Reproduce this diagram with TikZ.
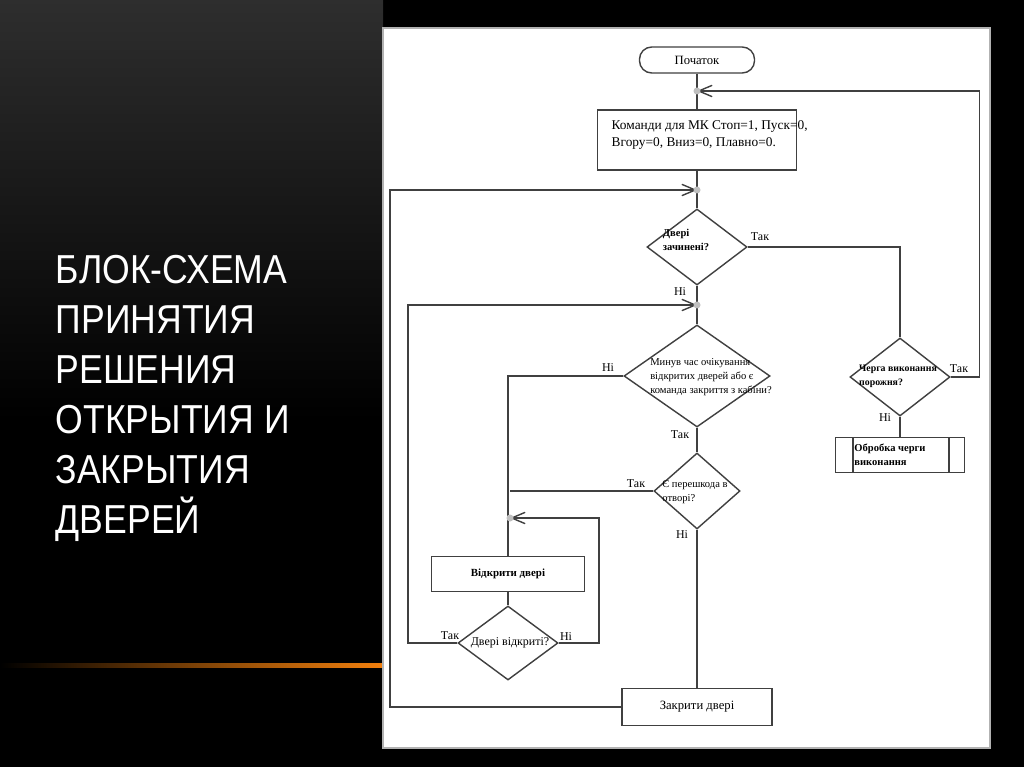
\documentclass[tikz,border=0pt]{standalone}
\usepackage{fontspec}
\setmainfont{Liberation Serif}
\newfontfamily\titlefont[FakeStretch=0.88]{Liberation Sans}
\usetikzlibrary{shapes.geometric, arrows}
\tikzset{
blk/.style={draw, rectangle, inner sep=0pt, font=\fontsize{3.6}{4.5}\selectfont},
dia/.style={draw, diamond, inner sep=0pt},
txt/.style={font=\fontsize{3}{3.9}\selectfont, align=left, inner sep=0pt},
lbl/.style={font=\fontsize{3.4}{4}\selectfont, inner sep=0pt},
dot/.style={fill=black!25, draw=none},
arr/.style={->, >=angle 45},
}
\begin{document}
\begin{tikzpicture}[x=0.01cm, y=-0.01cm, color=black!75, line width=0.4pt]
        \useasboundingbox (0,0) rectangle (1024,767);
        % slide background
        \fill[black] (0,0) rectangle (1024,767);
        \shade[top color=black!82, bottom color=black] (0,0) rectangle (383,420);
        \shade[left color=black, right color=orange!80!brown] (0,663) rectangle (383,667);
        \node[text=white, anchor=north west, align=left, inner sep=0pt,
              font=\titlefont\fontsize{11.5}{14.2}\selectfont] (title) at (55,255)
              {БЛОК-СХЕМА\\ПРИНЯТИЯ\\РЕШЕНИЯ\\ОТКРЫТИЯ И\\ЗАКРЫТИЯ\\ДВЕРЕЙ};
        \fill[white, draw=black!30] (383,28) rectangle (990,748);
        % blocks
        \node[blk, rounded corners=3.5pt, minimum width=1.15cm, minimum height=0.26cm, text=black] (start) at (697,60) {Початок};
        \node[blk, minimum width=1.99cm, minimum height=0.60cm] (cmd) at (697,140) {};
        \node[anchor=north west, inner sep=0pt, font=\fontsize{3.8}{4.7}\selectfont, align=left, text=black] (cmdtxt) at (611,120)
              {Команди для МК Стоп=1, Пуск=0,\\Вгору=0, Вниз=0, Плавно=0.};
        \node[dia, minimum width=1.00cm, minimum height=0.76cm] (closed) at (697,247) {};
        \node[txt, text=black, font=\bfseries\fontsize{3}{3.9}\selectfont] at (686,240) {Двері\\зачинені?};
        \node[dia, minimum width=1.46cm, minimum height=1.02cm] (timeout) at (697,376) {};
        \node[txt, text=black] at (711,377) {Минув час очікування\\відкритих дверей або є\\команда закриття з кабіни?};
        \node[dia, minimum width=0.86cm, minimum height=0.76cm] (obst) at (697,491) {};
        \node[txt, text=black] at (695,492) {Є перешкода в\\отворі?};
        \node[dia, minimum width=1.00cm, minimum height=0.78cm] (queue) at (900,377) {};
        \node[txt, text=black, font=\bfseries\fontsize{2.8}{3.9}\selectfont] at (898,376) {Черга виконання\\порожня?};
        \node[blk, minimum width=1.29cm, minimum height=0.35cm] (proc) at (900,455) {};
        \draw (853,437) -- (853,472) (949,437) -- (949,472);
        \node[txt, text=black, font=\bfseries\fontsize{3}{3.9}\selectfont] at (890,455) {Обробка черги\\виконання};
        \node[blk, text=black, minimum width=1.53cm, minimum height=0.35cm, font=\bfseries\fontsize{3.1}{4}\selectfont] (open) at (508,574) {Відкрити двері};
        \node[dia, minimum width=1.00cm, minimum height=0.74cm] (isopen) at (508,643) {};
        \node[txt, text=black, font=\fontsize{3.4}{4}\selectfont] at (510,643) {Двері відкриті?};
        \node[blk, text=black, minimum width=1.50cm, minimum height=0.37cm, font=\fontsize{3.6}{4.4}\selectfont] (close) at (697,707) {Закрити двері};
        % junction points
        \coordinate (j1) at (697,91);
        \coordinate (j2) at (697,190);
        \coordinate (j3) at (697,305);
        \coordinate (j4) at (510,518);
        % connectors
        \draw (start) -- (j1) -- (cmd) -- (j2) -- (closed) -- (j3) -- (timeout) -- (obst) -- (close);
        \draw (closed.east) -| (queue.north);
        \draw[arr] (queue.east) -- ++(29,0) |- (j1);
        \draw (queue) -- (proc);
        \draw[arr] (close.west) -| (390,190) -- (j2);
        \draw[arr] (isopen.west) -| (408,305) -- (j3);
        \draw (timeout.west) -| (open.north);
        \draw (obst.west) -- (510,491);
        \draw (open) -- (isopen);
        \draw[arr] (isopen.east) -| (599,518) -- (j4);
        \foreach \j in {j1,j2,j3,j4} \fill[dot] (\j) circle (3.5);
        % branch labels
        \begin{scope}[text=black]
        \node[lbl] at (760,237) {Так};
        \node[lbl] at (680,292) {Ні};
        \node[lbl] at (608,368) {Ні};
        \node[lbl] at (680,435) {Так};
        \node[lbl] at (636,484) {Так};
        \node[lbl] at (682,535) {Ні};
        \node[lbl] at (959,369) {Так};
        \node[lbl] at (885,418) {Ні};
        \node[lbl] at (450,636) {Так};
        \node[lbl] at (566,637) {Ні};
        \end{scope}
\end{tikzpicture}
\end{document}
